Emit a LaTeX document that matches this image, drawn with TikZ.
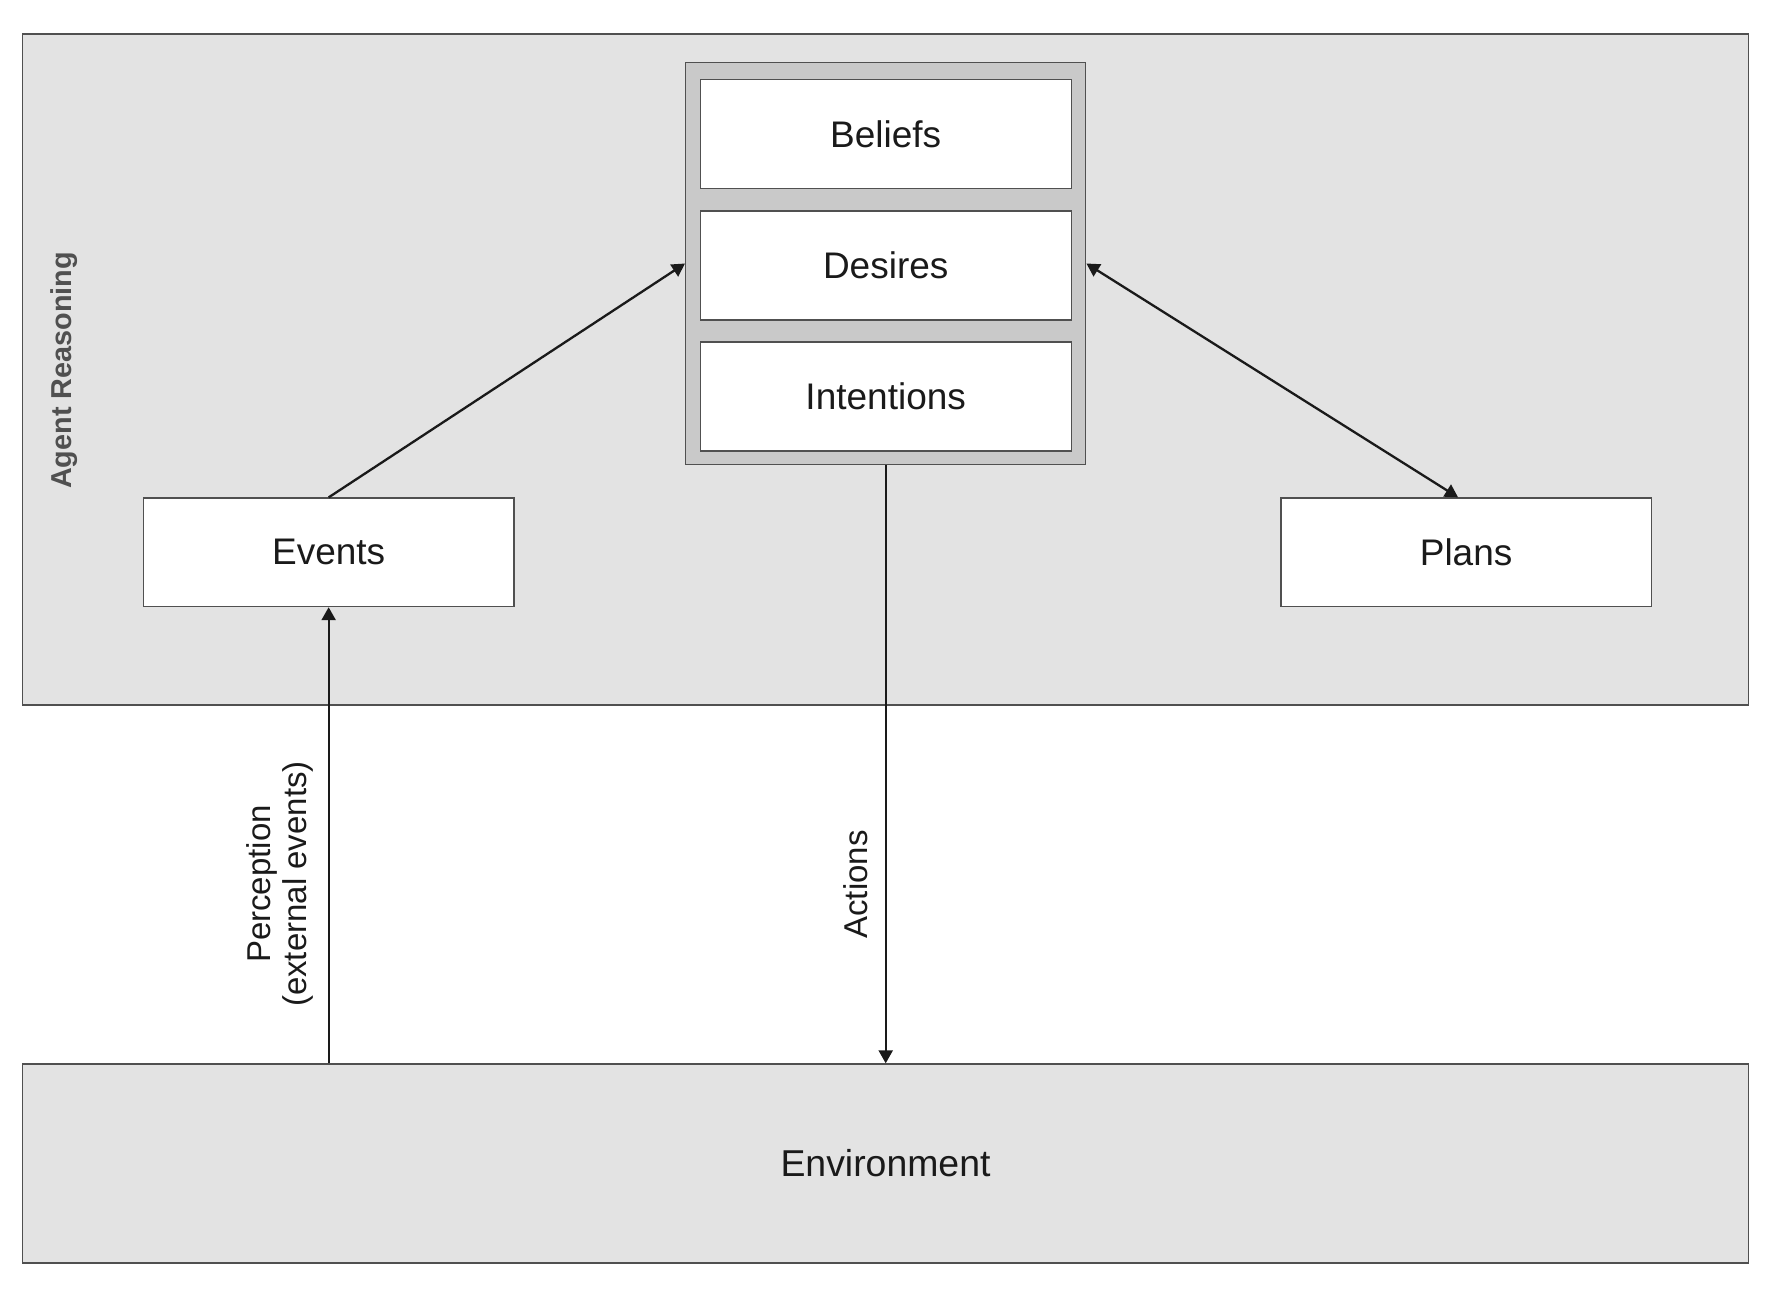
\documentclass[tikz,border=0pt]{standalone}
\usepackage{fontspec}
\setmainfont{Liberation Sans}
\usetikzlibrary{arrows.meta}
\definecolor{panel}{HTML}{E3E3E3}
\definecolor{bdifill}{HTML}{C9C9C9}
\definecolor{edge}{HTML}{505050}
\definecolor{ink}{HTML}{1A1A1A}
\begin{document}
\begin{tikzpicture}[x=0.5pt,y=-0.5pt,
  panelbox/.style={draw=edge,line width=0.7pt,fill=panel,inner sep=0pt},
  whitebox/.style={draw=edge,line width=0.7pt,fill=white,inner sep=0pt,
     minimum width=185.5pt,minimum height=54.5pt,font=\fontsize{18.5pt}{22pt}\selectfont,text=ink},
  conn/.style={draw=ink,line width=1.15pt},
  tip/.style={-{Triangle[length=6.5pt,width=7pt]}},
  dtip/.style={{Triangle[length=6.5pt,width=7pt]}-{Triangle[length=6.5pt,width=7pt]}},
  lbl/.style={font=\fontsize{16.5pt}{18pt}\selectfont,text=ink,rotate=90,align=center,inner sep=0pt}]
\useasboundingbox (0,0) rectangle (1771,1299);
\node[panelbox,minimum width=863pt,minimum height=335.5pt] (agent) at (885.5,369.4) {};
\node[panelbox,minimum width=863pt,minimum height=99.4pt,font=\fontsize{18.7pt}{22pt}\selectfont,text=ink] (env) at (885.5,1163.4) {Environment};
\node[draw=edge,line width=0.7pt,fill=bdifill,inner sep=0pt,minimum width=200pt,minimum height=200.8pt] (bdi) at (885.7,263.5) {};
\node[whitebox] (beliefs) at (885.7,133.8) {Beliefs};
\node[whitebox] (desires) at (885.7,265.35) {Desires};
\node[whitebox] (intentions) at (885.7,396.65) {Intentions};
\node[whitebox,minimum width=185.25pt,minimum height=54.2pt] (events) at (328.65,552.3) {Events};
\node[whitebox,minimum width=185.25pt,minimum height=54.2pt] (plans) at (1466.1,552.3) {Plans};
\node[rotate=90,font=\bfseries\fontsize{14.4pt}{16pt}\selectfont,text=edge,inner sep=0pt] (agentlbl) at (64.4,370.5) {Agent Reasoning};
% connectors
\draw[conn,tip] (events.north) -- (bdi.west);
\draw[conn,dtip] (bdi.east) -- ([xshift=-4pt]plans.north);
\draw[conn,tip] (bdi.south) -- (bdi.south |- env.north);
\draw[conn,tip] (events.south |- env.north) -- (events.south);
\node[lbl] (perc) at (280,884) {Perception\\(external events)};
\node[lbl] (act) at (856,884.5) {Actions};
\end{tikzpicture}
\end{document}
